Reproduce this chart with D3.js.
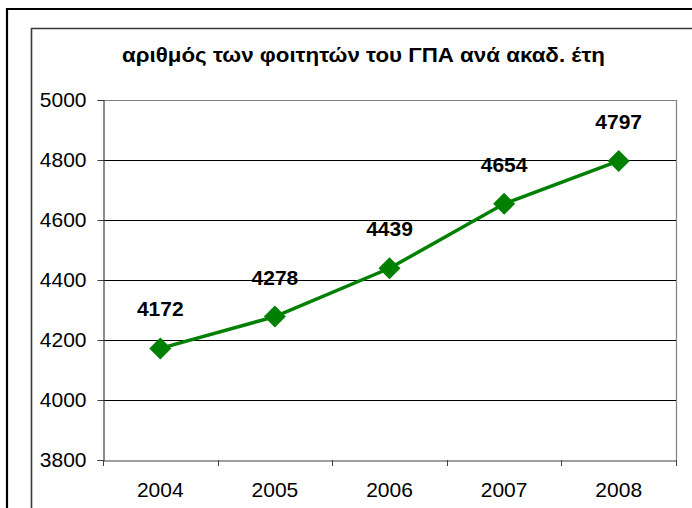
<!DOCTYPE html>
<html>
<head>
<meta charset="utf-8">
<script src="https://cdn.jsdelivr.net/npm/d3@7"></script>
<style>
  body { margin: 0; background: #fff; }
  svg { display: block; font-family: "Liberation Sans", Arial, sans-serif; }
</style>
</head>
<body>
<svg width="692" height="508"></svg>
<script>
const years = ["2004", "2005", "2006", "2007", "2008"]
const students = [4172, 4278, 4439, 4654, 4797]
const yTicks = [3800, 4000, 4200, 4400, 4600, 4800, 5000]
const title = "αριθμός των φοιτητών του ΓΠΑ ανά ακαδ. έτη"

const svg = d3.select("svg")
const margin = { left: 103, right: 676, top: 100, bottom: 460 }

// outer and inner frames
svg.append("path")
  .attr("d", "M7,508 V9 H692")
  .attr("fill", "none")
  .attr("stroke", "#000")
  .attr("stroke-width", 2.2)
svg.append("path")
  .attr("d", "M31.5,508 V28.5 H692")
  .attr("fill", "none")
  .attr("stroke", "#3a3a3a")
  .attr("stroke-width", 1.6)

const x = d3.scaleBand()
  .domain(years)
  .range([margin.left, margin.right])

const y = d3.scaleLinear()
  .domain([3800, 5000])
  .range([margin.bottom, margin.top])

// gridlines
svg.append("g")
  .selectAll("line")
  .data(yTicks.filter(d => d > 3800 && d < 5000))
  .join("line")
  .attr("x1", margin.left)
  .attr("x2", margin.right)
  .attr("y1", d => Math.round(y(d)) + 0.5)
  .attr("y2", d => Math.round(y(d)) + 0.5)
  .attr("stroke", "#000")
  .attr("stroke-width", 1)

// plot border top and right
svg.append("path")
  .attr("d", `M${margin.left},${margin.top + 0.5} H${margin.right + 0.5} V${margin.bottom}`)
  .attr("fill", "none")
  .attr("stroke", "#808080")
  .attr("stroke-width", 1.2)

// y axis
const yAxis = svg.append("g")
  .attr("transform", `translate(${margin.left + 0.5},0)`)
  .call(d3.axisLeft(y).tickValues(yTicks).tickSize(6).tickPadding(11).tickFormat(d3.format("d")))
yAxis.select(".domain").attr("stroke", "#404040").attr("stroke-width", 1.2)
yAxis.selectAll(".tick line").attr("stroke", "#404040")
yAxis.selectAll("text")
  .attr("font-size", 21)
  .attr("fill", "#000")
  .attr("font-family", "Liberation Sans, Arial, sans-serif")

// x axis
const xAxis = svg.append("g")
  .attr("transform", `translate(0,${margin.bottom + 0.5})`)
  .call(d3.axisBottom(x).tickSize(0).tickPadding(22))
xAxis.select(".domain").attr("stroke", "#404040").attr("stroke-width", 1.2)
xAxis.selectAll("text")
  .attr("font-size", 21)
  .attr("fill", "#000")
  .attr("font-family", "Liberation Sans, Arial, sans-serif")

// category boundary ticks
svg.append("g")
  .selectAll("line")
  .data(years.map(d => x(d)).concat([margin.right]))
  .join("line")
  .attr("x1", d => Math.round(d) + 0.5)
  .attr("x2", d => Math.round(d) + 0.5)
  .attr("y1", margin.bottom)
  .attr("y2", margin.bottom + 6)
  .attr("stroke", "#404040")

const cx = d => x(d) + x.bandwidth() / 2

// line
const line = d3.line()
  .x((d, i) => cx(years[i]))
  .y(d => y(d))

svg.append("path")
  .datum(students)
  .attr("d", line)
  .attr("fill", "none")
  .attr("stroke", "#008000")
  .attr("stroke-width", 3.5)

// markers
svg.append("g")
  .selectAll("path")
  .data(students)
  .join("path")
  .attr("transform", (d, i) => `translate(${cx(years[i])},${y(d)})`)
  .attr("d", "M0,-11 L11,0 L0,11 L-11,0 Z")
  .attr("fill", "#008000")

// value labels
svg.append("g")
  .selectAll("text")
  .data(students)
  .join("text")
  .attr("x", (d, i) => cx(years[i]))
  .attr("y", d => y(d) - 32)
  .attr("text-anchor", "middle")
  .attr("font-size", 21)
  .attr("font-weight", "bold")
  .text(d => d)

// title
svg.append("text")
  .attr("x", 363.5)
  .attr("y", 62)
  .attr("text-anchor", "middle")
  .attr("font-size", 20)
  .attr("font-weight", "bold")
  .attr("textLength", 483)
  .attr("lengthAdjust", "spacingAndGlyphs")
  .text(title)
</script>
</body>
</html>
